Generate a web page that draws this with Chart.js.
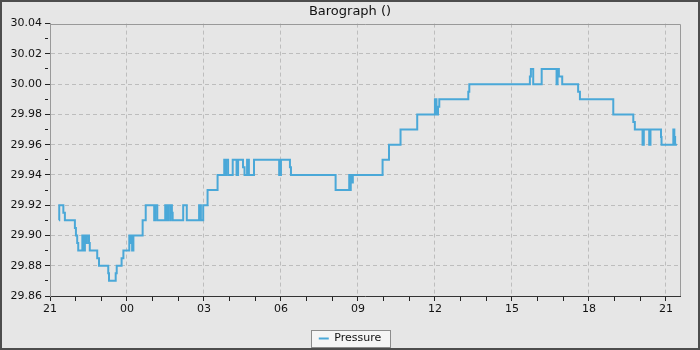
<!DOCTYPE html>
<html>
<head>
<meta charset="utf-8">
<script src="https://cdn.jsdelivr.net/npm/chart.js@4/dist/chart.umd.min.js"></script>
<style>
  html, body { margin: 0; padding: 0; background: #e6e6e6; }
  #frame {
    width: 700px; height: 350px; box-sizing: border-box;
    border: 2px solid #4d4d4d; background: #e6e6e6;
  }
  #wrap { position: relative; width: 696px; height: 346px; }
</style>
</head>
<body>
<div id="frame"><div id="wrap"><canvas id="baroChart"></canvas></div></div>
<script>
// Hours after 21:00 on the first day, and the pressure reading (inHg) from that time on
const hours = [0.35, 0.36, 0.52, 0.58, 0.97, 1.01, 1.06, 1.10, 1.26, 1.32,
  1.36, 1.42, 1.44, 1.52, 1.55, 1.84, 1.91, 2.27, 2.30, 2.56,
  2.60, 2.79, 2.86, 3.09, 3.12, 3.16, 3.20, 3.25, 3.61, 3.73,
  4.06, 4.10, 4.18, 4.49, 4.56, 4.60, 4.68, 4.70, 4.75, 4.78,
  5.19, 5.33, 5.81, 5.88, 5.97, 6.14, 6.53, 6.79, 6.83, 6.86,
  6.94, 7.12, 7.27, 7.33, 7.52, 7.58, 7.68, 7.75, 7.95, 8.93,
  9.00, 9.35, 9.39, 11.13, 11.66, 11.70, 11.72, 11.76, 11.80, 12.96,
  13.21, 13.66, 14.31, 15.00, 15.06, 15.12, 15.17, 16.30, 16.34, 18.70,
  18.74, 18.83, 19.16, 19.74, 19.78, 19.83, 19.96, 20.58, 20.65, 21.95,
  22.73, 22.79, 23.09, 23.14, 23.35, 23.40, 23.81, 23.83, 24.29, 24.33,
  24.36, 24.43];
const pressure = [29.91, 29.92, 29.915, 29.91, 29.905, 29.90, 29.895, 29.89, 29.90, 29.89,
  29.90, 29.895, 29.90, 29.895, 29.89, 29.885, 29.88, 29.875, 29.87, 29.875,
  29.88, 29.885, 29.89, 29.90, 29.895, 29.90, 29.89, 29.90, 29.91, 29.92,
  29.91, 29.92, 29.91, 29.92, 29.91, 29.92, 29.91, 29.92, 29.915, 29.91,
  29.92, 29.91, 29.92, 29.91, 29.92, 29.93, 29.94, 29.95, 29.94, 29.95,
  29.94, 29.95, 29.94, 29.95, 29.945, 29.94, 29.95, 29.94, 29.95, 29.94,
  29.95, 29.945, 29.94, 29.93, 29.94, 29.93, 29.94, 29.935, 29.94, 29.95,
  29.96, 29.97, 29.98, 29.99, 29.98, 29.985, 29.99, 29.995, 30.00, 30.005,
  30.01, 30.00, 30.01, 30.00, 30.01, 30.005, 30.00, 29.995, 29.99, 29.98,
  29.975, 29.97, 29.96, 29.97, 29.96, 29.97, 29.965, 29.96, 29.97, 29.965,
  29.96, 29.96];

// Axis ranges and ticks
const startHour = 21;
const xMin = 0, xMax = 24.55;       // hours shown
const xLabelEvery = 3;              // label / grid every 3 hours
const yMin = 29.86, yMax = 30.04, yStep = 0.01;

Chart.defaults.font.family = '"DejaVu Sans", sans-serif';
Chart.defaults.font.size = 11;
Chart.defaults.color = '#111';

const isMajorX = v => Math.abs(v % xLabelEvery) < 1e-6;
const isMajorY = v => Math.round(v * 100) % 2 === 0;

// grey frame around the plot area + box behind the legend
const framePlugin = {
  id: 'frame',
  beforeDraw(chart) {
    const ctx = chart.ctx;
    const lg = chart.legend;
    if (lg && lg.legendHitBoxes && lg.legendHitBoxes.length) {
      const hb = lg.legendHitBoxes[0];
      ctx.save();
      ctx.fillStyle = '#f5f5f5';
      ctx.strokeStyle = '#8c8c8c';
      ctx.lineWidth = 1;
      const x = Math.round(hb.left - 8) + 0.5, y = Math.round(hb.top - 3) + 0.5;
      const w = Math.round(hb.width + 17), h = Math.round(hb.height + 6);
      ctx.fillRect(x, y, w, h);
      ctx.strokeRect(x, y, w, h);
      ctx.restore();
    }
  },
  beforeDatasetsDraw(chart) {
    const {ctx, chartArea: a} = chart;
    ctx.save();
    ctx.strokeStyle = '#999';
    ctx.lineWidth = 1;
    ctx.beginPath();
    ctx.moveTo(a.left, Math.round(a.top) + 0.5);
    ctx.lineTo(Math.round(a.right) + 0.5, Math.round(a.top) + 0.5);
    ctx.lineTo(Math.round(a.right) + 0.5, a.bottom);
    ctx.stroke();
    ctx.restore();
  }
};

const points = hours.map((h, i) => ({x: h, y: pressure[i]}));

const config = {
  type: 'line',
  data: {
    datasets: [{
      label: 'Pressure',
      data: points,
      borderColor: '#4aa8d8',
      backgroundColor: '#4aa8d8',
      borderWidth: 2,
      pointRadius: 0,
      stepped: true,
      fill: false
    }]
  },
  options: {
    responsive: true,
    maintainAspectRatio: false,
    animation: false,
    layout: { padding: { left: 0, right: 0, top: 0, bottom: -6 } },
    plugins: {
      title: {
        display: true,
        text: 'Barograph ()',
        color: '#111',
        font: { size: 13, weight: 'normal' },
        padding: { top: 2, bottom: 4 }
      },
      legend: {
        position: 'bottom',
        labels: {
          usePointStyle: true,
          pointStyle: 'line',
          pointStyleWidth: 10,
          boxHeight: 11,
          padding: 0,
          color: '#111',
          font: { size: 11 }
        }
      },
      tooltip: { enabled: false }
    },
    scales: {
      x: {
        type: 'linear',
        min: xMin,
        max: xMax,
        border: { color: '#333', dash: [4, 3] },
        grid: {
          color: c => (isMajorX(c.tick.value) && c.tick.value > 0) ? '#bdbdbd' : 'rgba(0,0,0,0)',
          tickColor: '#222',
          tickLength: 5,
          tickBorderDash: c => isMajorX(c.tick.value) ? [] : [4, 20]
        },
        ticks: {
          stepSize: 1,
          autoSkip: false,
          maxRotation: 0,
          includeBounds: false,
          padding: 2,
          callback: v => isMajorX(v) ? String((startHour + v) % 24).padStart(2, '0') : ''
        },
        afterFit: s => { s.height = 37; }
      },
      y: {
        min: yMin,
        max: yMax,
        border: { color: '#999', dash: [4, 3] },
        grid: {
          color: c => (isMajorY(c.tick.value) && c.tick.value > yMin + 0.001 && c.tick.value < yMax - 0.001) ? '#bdbdbd' : 'rgba(0,0,0,0)',
          tickColor: '#222',
          tickLength: 5,
          tickBorderDash: c => isMajorY(c.tick.value) ? [] : [3, 20]
        },
        ticks: {
          stepSize: yStep,
          autoSkip: false,
          padding: 3,
          callback: v => isMajorY(v) ? v.toFixed(2) : ''
        },
        afterFit: s => { s.width = 48; }
      },
      // empty right-hand axis, only to keep space on the right
      yRight: {
        position: 'right',
        display: true,
        min: yMin,
        max: yMax,
        border: { display: false },
        grid: { drawOnChartArea: false, drawTicks: false },
        ticks: { display: false },
        afterFit: s => { s.width = 18; }
      }
    }
  },
  plugins: [framePlugin]
};

const ctx = document.getElementById('baroChart').getContext('2d');
new Chart(ctx, config);
</script>
</body>
</html>
